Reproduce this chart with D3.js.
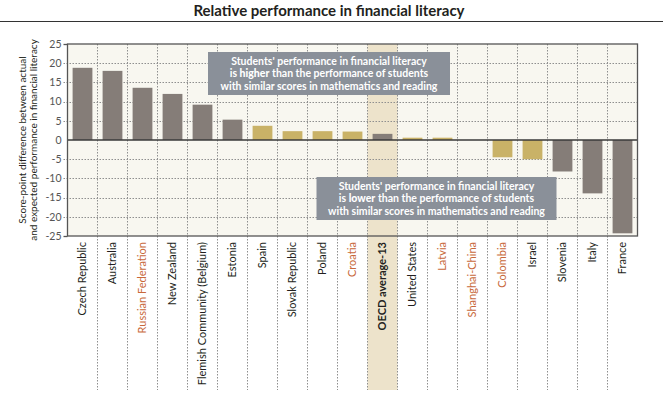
<!DOCTYPE html>
<html>
<head>
<meta charset="utf-8">
<script src="https://cdn.jsdelivr.net/npm/d3@7/dist/d3.min.js"></script>
<style>
  html, body { margin: 0; padding: 0; background: #ffffff; }
  svg { display: block; font-family: Lato, "Open Sans", sans-serif; }
</style>
</head>
<body>
<div id="chart"></div>
<script>
// data
const categories = [
  "Czech Republic", "Australia", "Russian Federation", "New Zealand",
  "Flemish Community (Belgium)", "Estonia", "Spain", "Slovak Republic",
  "Poland", "Croatia", "OECD average-13", "United States", "Latvia",
  "Shanghai-China", "Colombia", "Israel", "Slovenia", "Italy", "France"
];
const values = [18.8, 18.0, 13.6, 12.0, 9.2, 5.3, 3.7, 2.3, 2.3, 2.2, 1.6, 0.6, 0.6, 0.0, -4.5, -5.0, -8.2, -13.9, -24.3];
// dark bar = statistically significant difference
const significant = [true, true, true, true, true, true, false, false, false, false, true, false, false, false, false, false, true, true, true];
// partner countries/economies (orange labels)
const partners = ["Russian Federation", "Croatia", "Latvia", "Shanghai-China", "Colombia"];
const averageLabel = "OECD average-13";
const yTicks = [25, 20, 15, 10, 5, 0, -5, -10, -15, -20, -25];

const colors = {
  plotBg: "#f8f7f0",
  highlight: "#ede3cb",
  barSig: "#857d78",
  barNotSig: "#c9b267",
  frame: "#555555",
  grid: "#8f8f8f",
  text: "#231f20",
  partner: "#c8693b",
  tick: "#555555",
  box: "#8a9099"
};

const config = {
  width: 663,
  height: 398,
  plotLeft: 67.5,
  plotRight: 637.5,
  plotTop: 44,
  plotBottom: 236,
  gridBottom: 390,
  labelTop: 242
};

const svg = d3.select("#chart").append("svg")
  .attr("width", config.width)
  .attr("height", config.height);

// scales
const xBand = d3.scaleBand()
  .domain(categories)
  .range([config.plotLeft, config.plotRight])
  .padding(0);
const xBar = d3.scaleBand()
  .domain(categories)
  .range([config.plotLeft, config.plotRight])
  .paddingInner(0.34)
  .paddingOuter(0.17);
const y = d3.scaleLinear()
  .domain([-25, 25])
  .range([config.plotBottom, config.plotTop]);

// title
svg.append("text")
  .text("Relative performance in financial literacy")
  .attr("x", 329)
  .attr("y", 15.5)
  .attr("text-anchor", "middle")
  .style("font-size", "15px")
  .style("font-weight", "700")
  .style("fill", colors.text);
svg.append("line")
  .attr("x1", 0).attr("x2", config.width)
  .attr("y1", 21.5).attr("y2", 21.5)
  .attr("stroke", "#333")
  .attr("stroke-width", 1);

// plot background
svg.append("rect")
  .attr("x", config.plotLeft)
  .attr("y", config.plotTop)
  .attr("width", config.plotRight - config.plotLeft)
  .attr("height", config.plotBottom - config.plotTop)
  .attr("fill", colors.plotBg);

// OECD average highlight
svg.append("rect")
  .attr("x", xBand(averageLabel))
  .attr("y", config.plotTop)
  .attr("width", xBand.bandwidth())
  .attr("height", config.gridBottom - config.plotTop)
  .attr("fill", colors.highlight);

// horizontal grid
svg.append("g").attr("class", "hgrid")
  .selectAll("line")
  .data(yTicks.filter(d => d !== 0 && Math.abs(d) !== 25))
  .enter().append("line")
  .attr("x1", config.plotLeft - 4)
  .attr("x2", config.plotRight)
  .attr("y1", d => Math.round(y(d)) + 0.5)
  .attr("y2", d => Math.round(y(d)) + 0.5)
  .attr("stroke", colors.grid)
  .attr("stroke-width", 1)
  .style("stroke-dasharray", "1.5,1.5");

// vertical grid between categories
svg.append("g").attr("class", "vgrid")
  .selectAll("line")
  .data(categories.slice(1))
  .enter().append("line")
  .attr("x1", d => xBand(d))
  .attr("x2", d => xBand(d))
  .attr("y1", config.plotTop)
  .attr("y2", config.gridBottom)
  .attr("stroke", colors.grid)
  .attr("stroke-width", 1)
  .style("stroke-dasharray", "1.5,1.5");

// bars
svg.append("g").attr("class", "bars")
  .selectAll("rect")
  .data(categories)
  .enter().append("rect")
  .attr("x", d => xBar(d))
  .attr("width", xBar.bandwidth())
  .attr("y", (d, i) => y(Math.max(0, values[i])))
  .attr("height", (d, i) => Math.abs(y(values[i]) - y(0)))
  .attr("fill", (d, i) => significant[i] ? colors.barSig : colors.barNotSig);

// zero line
svg.append("line")
  .attr("x1", config.plotLeft).attr("x2", config.plotRight)
  .attr("y1", y(0)).attr("y2", y(0))
  .attr("stroke", "#3a3a3a")
  .attr("stroke-width", 1.3);

// frame
svg.append("rect")
  .attr("x", config.plotLeft)
  .attr("y", config.plotTop)
  .attr("width", config.plotRight - config.plotLeft)
  .attr("height", config.plotBottom - config.plotTop)
  .attr("fill", "none")
  .attr("stroke", colors.frame)
  .attr("stroke-width", 1.3);

// y axis
const yAxis = d3.axisLeft(y)
  .tickValues(yTicks)
  .tickSize(4)
  .tickPadding(2)
  .tickFormat(d => String(d));
const yAxisG = svg.append("g")
  .attr("class", "yAxis")
  .attr("transform", `translate(${config.plotLeft},0)`)
  .call(yAxis);
yAxisG.select(".domain").remove();
yAxisG.selectAll(".tick line")
  .attr("stroke", d => Math.abs(d) === 25 ? colors.frame : "none")
  .attr("stroke-width", 1.3);
yAxisG.selectAll(".tick text")
  .style("font-family", "Lato, sans-serif")
  .style("font-size", "10.5px")
  .style("fill", colors.tick);

// y axis title
const yTitle = svg.append("text")
  .attr("transform", `translate(22,${(config.plotTop + config.plotBottom) / 2}) rotate(-90)`)
  .attr("text-anchor", "middle")
  .style("font-size", "10px")
  .style("fill", colors.text);
yTitle.append("tspan").attr("x", 0).attr("dy", "0.35em").text("Score-point difference between actual");
yTitle.append("tspan").attr("x", 0).attr("dy", "1.15em").text("and expected performance in financial literacy");

// x labels
const xAxis = d3.axisBottom(xBand).tickSize(0).tickPadding(0);
const xAxisG = svg.append("g")
  .attr("class", "xAxis")
  .attr("transform", `translate(0,${config.labelTop})`)
  .call(xAxis);
xAxisG.select(".domain").remove();
xAxisG.selectAll(".tick text")
  .attr("transform", "rotate(-90)")
  .attr("x", 0)
  .attr("y", 0)
  .attr("dy", "0.35em")
  .attr("text-anchor", "end")
  .style("font-family", "Lato, sans-serif")
  .style("font-size", "11px")
  .style("font-weight", d => d === averageLabel ? "700" : "400")
  .style("fill", d => partners.includes(d) ? colors.partner : colors.text);

// annotation boxes
function annotation(x, yTop, w, h, lines) {
  const g = svg.append("g").attr("class", "note");
  g.append("rect")
    .attr("x", x).attr("y", yTop)
    .attr("width", w).attr("height", h)
    .attr("fill", colors.box);
  lines.forEach((parts, i) => {
    const t = g.append("text")
      .attr("x", x + w / 2)
      .attr("y", yTop + 13 + i * 12.3)
      .attr("text-anchor", "middle")
      .style("font-size", "10.5px")
      .style("fill", "#ffffff");
    parts.forEach(p => {
      t.append("tspan").text(p.t).style("font-weight", p.b ? "900" : "700");
    });
  });
}
annotation(208, 52, 242, 43, [
  [{ t: "Students' performance in financial literacy" }],
  [{ t: "is " }, { t: "higher", b: true }, { t: " than the performance of students" }],
  [{ t: "with similar scores in mathematics and reading" }]
]);
annotation(316.5, 177, 240, 43, [
  [{ t: "Students' performance in financial literacy" }],
  [{ t: "is " }, { t: "lower", b: true }, { t: " than the performance of students" }],
  [{ t: "with similar scores in mathematics and reading" }]
]);
</script>
</body>
</html>
